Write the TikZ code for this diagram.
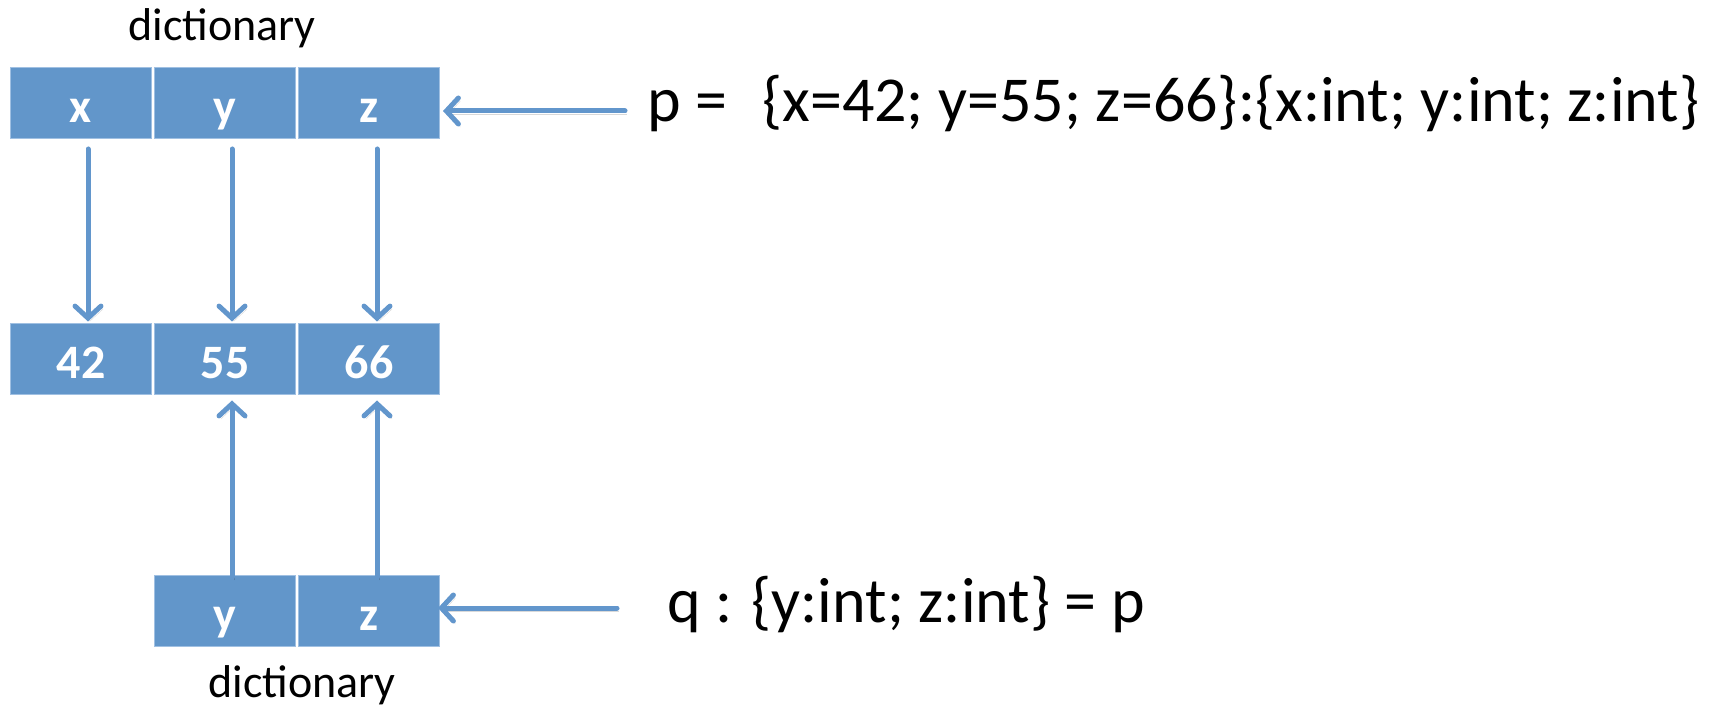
\documentclass[tikz,border=0pt]{standalone}
\usepackage{fontspec}
\setmainfont{Carlito}
\usetikzlibrary{arrows.meta}
\definecolor{cellblue}{RGB}{98,150,202}
\definecolor{celledge}{RGB}{160,192,226}
\definecolor{arrblue}{RGB}{98,150,204}
\begin{document}
\begin{tikzpicture}[x=1pt,y=-1pt,
  cell/.style={draw=celledge, line width=1pt, fill=cellblue, minimum width=141pt,
    minimum height=71pt, inner sep=0pt, text height=55pt, text depth=16pt,
    text=white, font=\fontsize{48}{48}\selectfont\bfseries},
  lbl/.style={font=\fontsize{46}{46}\selectfont, inner sep=0pt, anchor=base},
  big/.style={font=\fontsize{64}{64}\selectfont, inner sep=0pt, anchor=base west},
  link/.style={draw=arrblue, line width=5pt, line cap=round,
    -{Straight Barb[length=12pt,width=26pt,line cap=round]},
    preaction={draw=black, draw opacity=.15, transform canvas={shift={(2pt,-3pt)}}}}]
\useasboundingbox (0,0) rectangle (1714,708);
% top row
\node[cell] (kx) at (81,103) {x};
\node[cell] (ky) at (225,103) {y};
\node[cell] (kz) at (369,103) {z};
% values
\node[cell] (v1) at (81,359.5) {42};
\node[cell] (v2) at (225,359.5) {55};
\node[cell] (v3) at (369,359.5) {66};
% bottom row
\node[cell] (qy) at (225,611) {y};
\node[cell] (qz) at (369,611) {z};
% labels
\node[lbl] (d1) at (222,41) {dictionary};
\node[lbl] (d2) at (302,697) {dictionary};
\node[big] (pt) at (647,122) {p =\hspace{0.55em}\{x=42; y=55; z=66\}:\{x:int; y:int; z:int\}};
\node[big] (qt) at (667,622) {q : \{y:int; z:int\} = p};
\coordinate (pa) at (625,111);
\coordinate (qa) at (617,608);
% arrows
\draw[link] ([xshift=7pt,yshift=-10pt]kx.south) -- ([xshift=7pt,yshift=2pt]v1.north);
\draw[link] ([xshift=7pt,yshift=-10pt]ky.south) -- ([xshift=7pt,yshift=2pt]v2.north);
\draw[link] ([xshift=8pt,yshift=-10pt]kz.south) -- ([xshift=8pt,yshift=2pt]v3.north);
\draw[link] ([xshift=7pt,yshift=-2pt]qy.north) -- ([xshift=7pt,yshift=-5pt]v2.south);
\draw[link] ([xshift=8pt,yshift=-2pt]qz.north) -- ([xshift=8pt,yshift=-5pt]v3.south);
\draw[link] (pa) -- ([xshift=3pt,yshift=-8pt]kz.east);
\draw[link] (qa) -- ([xshift=-2pt,yshift=3pt]qz.east);
\end{tikzpicture}
\end{document}
